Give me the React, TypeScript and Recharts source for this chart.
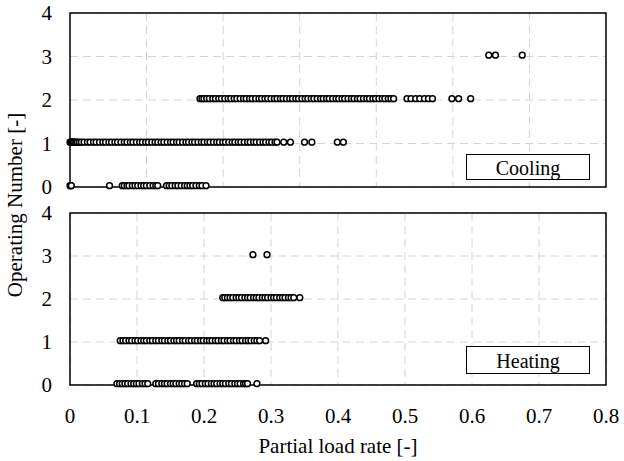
import React from "react";
import {
  ScatterChart,
  Scatter,
  XAxis,
  YAxis,
  CartesianGrid,
  ReferenceArea,
} from "recharts";

const SERIF = "'Liberation Serif', 'Times New Roman', Times, serif";

// x = partial load rate [-]; y = operating number (drawn slightly above the integer)
const coolingLevel0 = [
  0, 0.001, 0.002, 0.059, 0.078, 0.081, 0.085, 0.088, 0.093, 0.097, 0.101, 0.106, 0.11,
  0.114, 0.119, 0.124, 0.128, 0.131, 0.144, 0.148, 0.152, 0.157, 0.161, 0.166, 0.171,
  0.175, 0.179, 0.183, 0.188, 0.193, 0.197, 0.203,
];
const coolingLevel1 = [
  0, 0.001, 0.002, 0.003, 0.004, 0.005, 0.007, 0.009, 0.011, 0.014, 0.017, 0.021, 0.026,
  0.03, 0.035, 0.039, 0.044, 0.049, 0.053, 0.058, 0.062, 0.067, 0.071, 0.076, 0.081,
  0.085, 0.09, 0.094, 0.099, 0.104, 0.108, 0.113, 0.117, 0.122, 0.127, 0.131, 0.136,
  0.14, 0.145, 0.15, 0.154, 0.159, 0.163, 0.168, 0.173, 0.177, 0.182, 0.186, 0.191,
  0.196, 0.2, 0.205, 0.209, 0.214, 0.219, 0.223, 0.228, 0.232, 0.237, 0.242, 0.246,
  0.251, 0.255, 0.26, 0.265, 0.269, 0.274, 0.278, 0.283, 0.288, 0.292, 0.297, 0.301,
  0.306, 0.309, 0.319, 0.329, 0.35, 0.361, 0.399, 0.408,
];
const coolingLevel2 = [
  0.194, 0.197, 0.2, 0.204, 0.208, 0.213, 0.217, 0.222, 0.226, 0.231, 0.236, 0.24,
  0.245, 0.249, 0.254, 0.259, 0.263, 0.268, 0.272, 0.277, 0.282, 0.286, 0.291, 0.295,
  0.3, 0.305, 0.309, 0.314, 0.318, 0.323, 0.328, 0.332, 0.337, 0.341, 0.346, 0.351,
  0.355, 0.36, 0.364, 0.369, 0.374, 0.378, 0.383, 0.387, 0.392, 0.397, 0.401, 0.406,
  0.41, 0.415, 0.42, 0.424, 0.429, 0.433, 0.438, 0.443, 0.447, 0.452, 0.456, 0.461,
  0.466, 0.47, 0.475, 0.479, 0.483, 0.503, 0.509, 0.516, 0.522, 0.529, 0.535, 0.541,
  0.57, 0.58, 0.598,
];
const coolingLevel3 = [0.625, 0.635, 0.675];

const heatingLevel0 = [
  0.07, 0.074, 0.078, 0.082, 0.086, 0.091, 0.095, 0.099, 0.103, 0.108, 0.112, 0.116,
  0.128, 0.132, 0.137, 0.141, 0.145, 0.15, 0.154, 0.158, 0.163, 0.167, 0.171, 0.175,
  0.189, 0.193, 0.197, 0.202, 0.206, 0.211, 0.215, 0.219, 0.224, 0.228, 0.232, 0.237,
  0.241, 0.246, 0.25, 0.254, 0.259, 0.262, 0.265, 0.279,
];
const heatingLevel1 = [
  0.075, 0.079, 0.083, 0.088, 0.092, 0.097, 0.101, 0.106, 0.11, 0.114, 0.119, 0.123,
  0.128, 0.132, 0.137, 0.141, 0.146, 0.15, 0.155, 0.159, 0.163, 0.168, 0.172, 0.177,
  0.181, 0.186, 0.19, 0.195, 0.199, 0.204, 0.208, 0.212, 0.217, 0.221, 0.226, 0.23,
  0.235, 0.239, 0.244, 0.248, 0.253, 0.257, 0.262, 0.266, 0.27, 0.275, 0.279, 0.283,
  0.292,
];
const heatingLevel2 = [
  0.228, 0.231, 0.235, 0.239, 0.243, 0.248, 0.252, 0.256, 0.261, 0.265, 0.269, 0.274,
  0.278, 0.282, 0.287, 0.291, 0.295, 0.3, 0.304, 0.308, 0.313, 0.317, 0.321, 0.326,
  0.33, 0.334, 0.343,
];
const heatingLevel3 = [0.273, 0.294];

const levelY = [0.03, 1.03, 2.03, 3.03];

const xTicks = [0, 0.1, 0.2, 0.3, 0.4, 0.5, 0.6, 0.7, 0.8];
const yTicks = [0, 1, 2, 3, 4];
// the cooling panel's vertical gridlines split the plot width into 7 parts
const TOP_GRID_PARTS = 7;

const toPoints = (xs: number[], y: number) => xs.map((x) => ({ x, y }));

const coolingData = [
  ...toPoints(coolingLevel0, levelY[0]),
  ...toPoints(coolingLevel1, levelY[1]),
  ...toPoints(coolingLevel2, levelY[2]),
  ...toPoints(coolingLevel3, levelY[3]),
];
const heatingData = [
  ...toPoints(heatingLevel0, levelY[0]),
  ...toPoints(heatingLevel1, levelY[1]),
  ...toPoints(heatingLevel2, levelY[2]),
  ...toPoints(heatingLevel3, levelY[3]),
];

const OpenCircle = (props: any) => (
  <circle cx={props.cx} cy={props.cy} r={2.9} fill="#fff" stroke="#000" strokeWidth={1.5} />
);

const topVerticalGrid = ({ offset }: any) => {
  const pts: number[] = [];
  for (let i = 1; i < TOP_GRID_PARTS; i++) {
    pts.push(offset.left + (offset.width * i) / TOP_GRID_PARTS);
  }
  return pts;
};

const tickStyle = { fontSize: 21, fill: "#000", fontFamily: SERIF };

const boxStyle = (top: number, height: number): React.CSSProperties => ({
  position: "absolute",
  left: 466,
  top,
  width: 124,
  height,
  boxSizing: "border-box",
  border: "1.5px solid #000",
  background: "#fff",
  fontFamily: SERIF,
  fontSize: 20,
  textAlign: "center",
  lineHeight: `${height - 3}px`,
  paddingTop: 2,
});

export default function App() {
  return (
    <div style={{ position: "absolute", left: 0, top: 0, width: 624, height: 461, background: "#fff", fontFamily: SERIF }}>
      <div style={{ position: "absolute", left: 0, top: 0 }}>
        <ScatterChart width={624} height={200} margin={{ top: 13, right: 18, bottom: 13, left: 0 }}>
          <XAxis dataKey="x" type="number" domain={[0, 0.8]} ticks={xTicks} hide />
          <YAxis
            dataKey="y"
            type="number"
            domain={[0, 4]}
            ticks={yTicks}
            width={70}
            axisLine={false}
            tickLine={false}
            tickMargin={12}
            tick={tickStyle}
          />
          <CartesianGrid
            stroke="#d4d4d4"
            strokeDasharray="8 5"
            strokeWidth={1}
            verticalCoordinatesGenerator={topVerticalGrid}
          />
          <ReferenceArea x1={0} x2={0.8} y1={0} y2={4} fill="none" stroke="#000" strokeWidth={1.5} />
          <Scatter data={coolingData} shape={OpenCircle} isAnimationActive={false} />
        </ScatterChart>
      </div>
      <div style={{ position: "absolute", left: 0, top: 200 }}>
        <ScatterChart width={624} height={261} margin={{ top: 13, right: 18, bottom: 0, left: 0 }}>
          <XAxis
            dataKey="x"
            type="number"
            domain={[0, 0.8]}
            ticks={xTicks}
            height={76}
            axisLine={false}
            tickLine={false}
            tickMargin={17}
            tick={tickStyle}
            tickFormatter={(v) => (v === 0 ? "0" : Number(v).toFixed(1))}
            label={{
              value: "Partial load rate [-]",
              position: "insideBottom",
              offset: 8,
              style: { fontSize: 21, fill: "#000", fontFamily: SERIF },
            }}
          />
          <YAxis
            dataKey="y"
            type="number"
            domain={[0, 4]}
            ticks={yTicks}
            width={70}
            axisLine={false}
            tickLine={false}
            tickMargin={12}
            tick={tickStyle}
          />
          <CartesianGrid stroke="#d4d4d4" strokeDasharray="8 5" strokeWidth={1} />
          <ReferenceArea x1={0} x2={0.8} y1={0} y2={4} fill="none" stroke="#000" strokeWidth={1.5} />
          <Scatter data={heatingData} shape={OpenCircle} isAnimationActive={false} />
        </ScatterChart>
      </div>
      <div style={boxStyle(154, 26)}>Cooling</div>
      <div style={boxStyle(346, 28)}>Heating</div>
      <div
        style={{
          position: "absolute",
          left: 15,
          top: 205,
          transform: "translate(-50%, -50%) rotate(-90deg)",
          whiteSpace: "nowrap",
          fontFamily: SERIF,
          fontSize: 21,
        }}
      >
        Operating Number [-]
      </div>
    </div>
  );
}
